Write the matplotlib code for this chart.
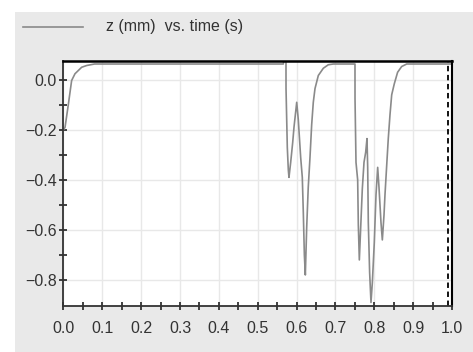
import numpy as np
import matplotlib
matplotlib.use("Agg")
import matplotlib.pyplot as plt
from matplotlib.lines import Line2D
from matplotlib.patches import Rectangle

plt.rcParams['font.family'] = ['Liberation Sans', 'DejaVu Sans']

# z (mm) vs time (s)
time_s = [0.0, 0.004, 0.0124, 0.021, 0.0296, 0.0468, 0.0597, 0.08,
          0.5658, 0.567, 0.5727, 0.5728, 0.5761, 0.5787, 0.5804, 0.5848,
          0.590, 0.5933, 0.6003, 0.6044, 0.6105, 0.6147, 0.6173, 0.620,
          0.6225, 0.626, 0.630, 0.6345, 0.6388, 0.643, 0.6474, 0.6559,
          0.6688, 0.6816, 0.6945,
          0.7503, 0.7504, 0.7529, 0.7572, 0.7589, 0.7615, 0.765, 0.7692,
          0.7735, 0.7778, 0.7812, 0.783, 0.7846, 0.788, 0.7915, 0.795,
          0.800, 0.8044, 0.8087, 0.8121, 0.8172, 0.8207, 0.825, 0.8275,
          0.832, 0.836, 0.8404, 0.8448, 0.8515, 0.860, 0.8705, 0.8834,
          0.90, 1.0]
z_mm = [-0.20, -0.19, -0.10, -0.003, 0.024, 0.05, 0.057, 0.063,
        0.063, 0.074, 0.074, -0.035, -0.27, -0.36, -0.39, -0.33,
        -0.25, -0.19, -0.09, -0.16, -0.31, -0.39, -0.53, -0.70,
        -0.78, -0.59, -0.43, -0.31, -0.18, -0.09, -0.035, 0.017,
        0.046, 0.060, 0.063,
        0.063, -0.076, -0.33, -0.40, -0.58, -0.72, -0.59, -0.435,
        -0.33, -0.29, -0.235, -0.35, -0.57, -0.77, -0.89, -0.81,
        -0.65, -0.46, -0.35, -0.43, -0.57, -0.64, -0.54, -0.46,
        -0.34, -0.235, -0.14, -0.06, -0.016, 0.03, 0.053, 0.063,
        0.063, 0.063]
t_end = 0.99
yticks = [-0.8, -0.6, -0.4, -0.2, 0.0]
xticks = [0.0, 0.1, 0.2, 0.3, 0.4, 0.5, 0.6, 0.7, 0.8, 0.9, 1.0]

fig = plt.figure(figsize=(4.73, 3.52), dpi=100, facecolor='white')
fig.patches.append(Rectangle((15 / 473, 0), 1, 1 - 12 / 352, transform=fig.transFigure,
                             facecolor='#e9e9e9', edgecolor='none', zorder=-10))

ax = fig.add_axes([0.1342, 0.1307, 0.8214, 0.696])
ax.set_facecolor('white')
ax.plot(time_s, z_mm, color='#8a8a8a', lw=1.2)
ax.axvline(t_end, color='black', lw=1.3, ls=(0, (3, 2)))

ax.set_xlim(0, 1.0)
ax.set_ylim(-0.904, 0.075)
ax.set_xticks(xticks)
ax.set_xticks(np.arange(0.05, 1.0, 0.1), minor=True)
ax.set_yticks(yticks)
ax.set_yticks([-0.7, -0.5, -0.3, -0.1], minor=True)
ax.set_xticklabels(['%.1f' % v for v in xticks])
ax.set_yticklabels([('%.1f' % v).replace('-', '\u2212') for v in yticks])
ax.grid(True, which='major', color='#e8e8e8', lw=1)
ax.set_axisbelow(True)

ax.tick_params(which='both', direction='inout', color='#333333', width=1.3,
               length=6, labelsize=11.5, labelcolor='#333333')
ax.tick_params(axis='x', pad=8)
ax.tick_params(axis='y', pad=2)

for s in ['left', 'bottom']:
    ax.spines[s].set_color('#333333')
    ax.spines[s].set_linewidth(1.3)
ax.spines['top'].set_color('black')
ax.spines['top'].set_linewidth(1.8)
ax.spines['right'].set_color('black')
ax.spines['right'].set_linewidth(1.5)

# legend row on top
fig.lines.append(Line2D([22.7 / 473, 83 / 473], [1 - 26.7 / 352] * 2,
                        transform=fig.transFigure, color='#8a8a8a', lw=1.2))
fig.text(105.7 / 473, 1 - 26.7 / 352, 'z (mm)  vs. time (s)', fontsize=11.5,
         color='#333333', va='center', ha='left')

fig.savefig('out.png', dpi=100, facecolor=fig.get_facecolor())
